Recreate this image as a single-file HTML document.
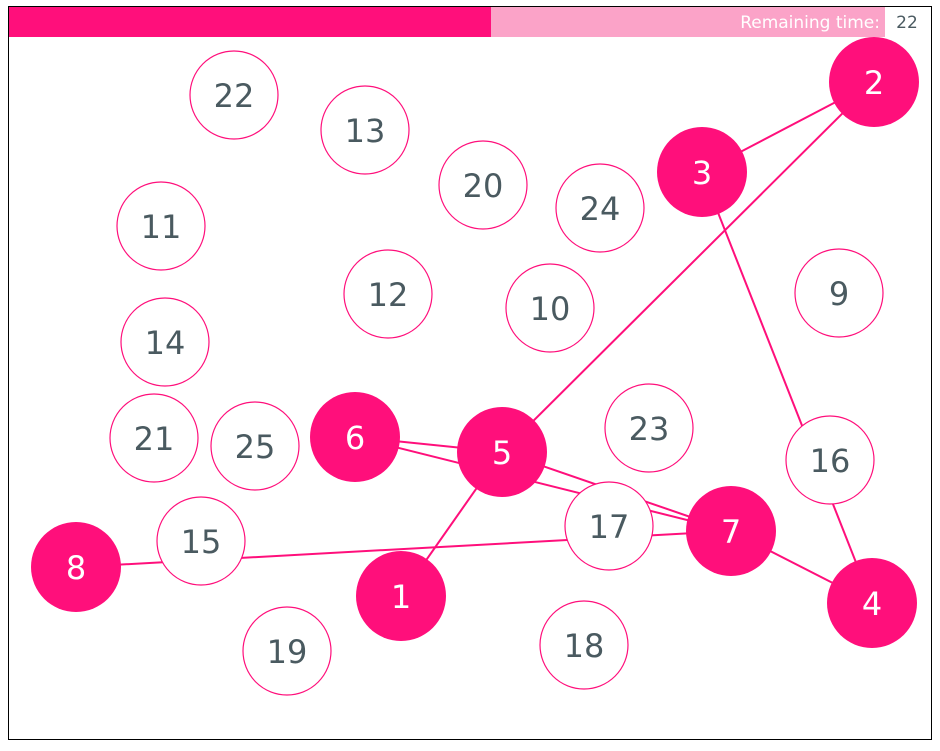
<!DOCTYPE html>
<html><head><style>
body{margin:0;background:#fff;width:940px;height:746px;overflow:hidden}
text{font-family:"DejaVu Sans","Liberation Sans",sans-serif}
</style></head><body>
<svg width="940" height="746" xmlns="http://www.w3.org/2000/svg">
<rect x="8.5" y="6.5" width="923" height="733" fill="#fff" stroke="#000" stroke-width="1"/>
<rect x="9" y="7" width="482" height="30" fill="#ff0f7b"/>
<rect x="491" y="7" width="394" height="30" fill="#fba3c8"/>
<text x="880" y="28" font-size="17" fill="#fff" text-anchor="end">Remaining time:</text>
<text x="907" y="28" font-size="17" fill="#4a5a60" text-anchor="middle">22</text>
<g stroke="#ff0f7b" stroke-width="2">
<line x1="702" y1="172" x2="874" y2="82"/>
<line x1="874" y1="82" x2="502" y2="452"/>
<line x1="702" y1="172" x2="872" y2="603"/>
<line x1="355" y1="437" x2="502" y2="452"/>
<line x1="355" y1="437" x2="731" y2="531"/>
<line x1="502" y1="452" x2="731" y2="531"/>
<line x1="731" y1="531" x2="872" y2="603"/>
<line x1="76" y1="567" x2="731" y2="531"/>
<line x1="401" y1="596" x2="502" y2="452"/>
</g>
<g font-size="32" text-anchor="middle">
<g fill="#fff" stroke="#ff0f7b" stroke-width="1.2">
<circle cx="234" cy="95" r="44"/><circle cx="365" cy="130" r="44"/><circle cx="483" cy="185" r="44"/>
<circle cx="600" cy="208" r="44"/><circle cx="161" cy="226" r="44"/><circle cx="388" cy="294" r="44"/>
<circle cx="550" cy="308" r="44"/><circle cx="839" cy="293" r="44"/><circle cx="165" cy="342" r="44"/>
<circle cx="154" cy="438" r="44"/><circle cx="255" cy="446" r="44"/><circle cx="649" cy="428" r="44"/>
<circle cx="830" cy="460" r="44"/><circle cx="609" cy="526" r="44"/><circle cx="201" cy="541" r="44"/>
<circle cx="584" cy="645" r="44"/><circle cx="287" cy="651" r="44"/>
</g>
<g fill="#ff0f7b">
<circle cx="874" cy="82" r="45"/><circle cx="702" cy="172" r="45"/><circle cx="355" cy="437" r="45"/>
<circle cx="502" cy="452" r="45"/><circle cx="731" cy="531" r="45"/><circle cx="76" cy="567" r="45"/>
<circle cx="401" cy="596" r="45"/><circle cx="872" cy="603" r="45"/>
</g>
<g fill="#4a5a60">
<text x="234" y="107">22</text><text x="365" y="142">13</text><text x="483" y="197">20</text>
<text x="600" y="220">24</text><text x="161" y="238">11</text><text x="388" y="306">12</text>
<text x="550" y="320">10</text><text x="839" y="305">9</text><text x="165" y="354">14</text>
<text x="154" y="450">21</text><text x="255" y="458">25</text><text x="649" y="440">23</text>
<text x="830" y="472">16</text><text x="609" y="538">17</text><text x="201" y="553">15</text>
<text x="584" y="657">18</text><text x="287" y="663">19</text>
</g>
<g fill="#fff">
<text x="874" y="94">2</text><text x="702" y="184">3</text><text x="355" y="449">6</text>
<text x="502" y="464">5</text><text x="731" y="543">7</text><text x="76" y="579">8</text>
<text x="401" y="608">1</text><text x="872" y="615">4</text>
</g>
</g>
</svg>
</body></html>
